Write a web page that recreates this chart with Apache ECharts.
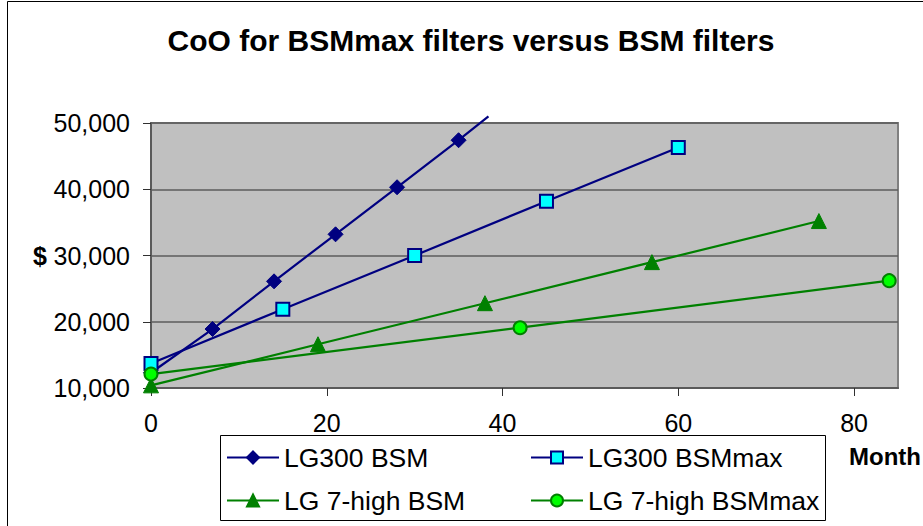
<!DOCTYPE html>
<html>
<head>
<meta charset="utf-8">
<script src="https://cdn.jsdelivr.net/npm/echarts@6/dist/echarts.min.js"></script>
<style>html,body{margin:0;padding:0;background:#fff;}#c{width:923px;height:526px;}</style>
</head>
<body>
<div id="c"></div>
<script>
// Months and cost ($) for each filter series
const lg300BsmX = [0, 7, 14, 21, 28, 35, 38.4];          // last entry: visible end of the line (no marker)
const lg300BsmY = [12300, 18900, 26100, 33200, 40300, 47400, 51000];
const lg300MaxX = [0, 15, 30, 45, 60];
const lg300MaxY = [13700, 21900, 30000, 38200, 46300];
const lg7BsmX = [0, 19, 38, 57, 76];
const lg7BsmY = [10400, 16600, 22800, 29000, 35200];
const lg7MaxX = [0, 42, 84];
const lg7MaxY = [12100, 19100, 26200];
const xTicks = [0, 20, 40, 60, 80];
const yTicks = [10000, 20000, 30000, 40000, 50000];
const names = ['LG300 BSM', 'LG300 BSMmax', 'LG 7-high BSM', 'LG 7-high BSMmax'];

const FONT = "'Liberation Sans', Arial, sans-serif";
const pts = (xs, ys) => xs.map((x, i) => [x, ys[i]]);

const bsmData = pts(lg300BsmX, lg300BsmY).map((p, i, a) =>
  i === a.length - 1 ? { value: p, symbol: 'none' } : p);

const chart = echarts.init(document.getElementById('c'), null, { renderer: 'svg' });
chart.setOption({
  animation: false,
  backgroundColor: '#fff',
  textStyle: { fontFamily: FONT },
  title: {
    text: 'CoO for BSMmax filters versus BSM filters',
    left: 471, top: 25, padding: 0, textAlign: 'center',
    textStyle: { fontFamily: FONT, fontSize: 30, fontWeight: 'bold', color: '#000' }
  },
  grid: {
    left: 151, top: 123, right: 25, bottom: 138,
    show: true, backgroundColor: '#C0C0C0', borderColor: '#808080', borderWidth: 2
  },
  xAxis: {
    type: 'value', min: 0, max: 85, interval: 20,
    axisLine: { show: true, onZero: false, lineStyle: { color: '#5a5a5a', width: 2 } },
    axisTick: { show: true, length: 8, lineStyle: { color: '#303030', width: 1 }, customValues: xTicks },
    axisLabel: { margin: 22, fontSize: 25, color: '#000', fontFamily: FONT, customValues: xTicks },
    splitLine: { show: false }
  },
  yAxis: {
    type: 'value', min: 10000, max: 50000, interval: 10000,
    name: '$', nameLocation: 'middle', nameRotate: 0, nameGap: 104,
    nameTextStyle: { fontSize: 25, fontWeight: 'bold', color: '#000', fontFamily: FONT },
    axisLine: { show: true, lineStyle: { color: '#5a5a5a', width: 2 } },
    axisTick: { show: true, length: 8, lineStyle: { color: '#303030', width: 1 }, customValues: yTicks },
    axisLabel: {
      margin: 21, fontSize: 25, color: '#000', fontFamily: FONT, customValues: yTicks,
      formatter: v => v.toLocaleString('en-US')
    },
    splitLine: { show: true, lineStyle: { color: '#5c5c5c', width: 1.5 } }
  },
  legend: [
    {
      data: [names[0], names[2]], orient: 'vertical', left: 226, top: 444, itemGap: 16,
      itemWidth: 52, itemHeight: 15, padding: 0,
      textStyle: { fontSize: 26.5, color: '#000', fontFamily: FONT }
    },
    {
      data: [names[1], names[3]], orient: 'vertical', left: 530, top: 444, itemGap: 16,
      itemWidth: 52, itemHeight: 15, padding: 0,
      textStyle: { fontSize: 26.5, color: '#000', fontFamily: FONT }
    }
  ],
  graphic: [
    { type: 'rect', shape: { x: 7.5, y: 1.5, width: 1000, height: 1000 },
      style: { fill: 'none', stroke: '#000', lineWidth: 1 }, z: 0, silent: true },
    { type: 'rect', shape: { x: 220.5, y: 435.5, width: 605, height: 85 },
      style: { fill: '#fff', stroke: '#000', lineWidth: 1 }, z: 0, silent: true },
    { type: 'text', x: 849, y: 456,
      style: { text: 'Month', fontSize: 24, fontWeight: 'bold', fontFamily: FONT, fill: '#000', verticalAlign: 'middle' } }
  ],
  series: [
    {
      name: names[0], type: 'line', data: bsmData, clip: false,
      symbol: 'diamond', symbolSize: 15,
      lineStyle: { color: '#000080', width: 2.2 },
      itemStyle: { color: '#000080', borderColor: '#000080', borderWidth: 1 }
    },
    {
      name: names[1], type: 'line', data: pts(lg300MaxX, lg300MaxY),
      symbol: 'rect', symbolSize: 13,
      lineStyle: { color: '#000080', width: 2.2 },
      itemStyle: { color: '#00FFFF', borderColor: '#000080', borderWidth: 2 }
    },
    {
      name: names[2], type: 'line', data: pts(lg7BsmX, lg7BsmY),
      symbol: 'triangle', symbolSize: 15,
      lineStyle: { color: '#008000', width: 2.2 },
      itemStyle: { color: '#008000', borderColor: '#008000', borderWidth: 1 }
    },
    {
      name: names[3], type: 'line', data: pts(lg7MaxX, lg7MaxY),
      symbol: 'circle', symbolSize: 13,
      lineStyle: { color: '#008000', width: 2.2 },
      itemStyle: { color: '#00FF00', borderColor: '#008000', borderWidth: 2 }
    }
  ]
});
</script>
</body>
</html>
